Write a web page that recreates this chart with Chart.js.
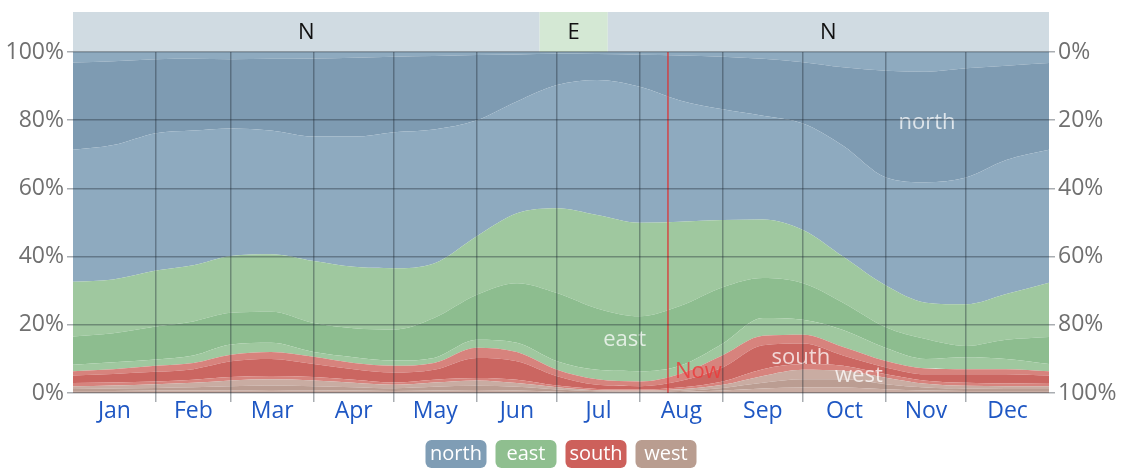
<!DOCTYPE html>
<html>
<head>
<meta charset="utf-8">
<script src="https://cdn.jsdelivr.net/npm/chart.js@4.4.0/dist/chart.umd.min.js"></script>
<style>
  html, body { margin: 0; padding: 0; background: #fff; }
  #wrap { width: 1123px; height: 469px; }
</style>
</head>
<body>
<div id="wrap"><canvas id="windChart" width="1123" height="469"></canvas></div>
<script>
// wind direction chart - stacked edges

// day of year where each edge was read
const days = [0, 15, 31, 45, 59, 74, 90, 105, 120, 135, 151, 166, 181, 196, 212, 227, 243, 258, 273, 288, 304, 319, 334, 349, 365];

// cumulative edges in %, bottom to top
const westLowTop   = [0.6, 0.6, 0.7, 0.7, 0.8, 0.9, 0.8, 0.7, 0.6, 0.7, 0.9, 0.7, 0.4, 0.2, 0.2, 0.3, 0.7, 1.3, 1.6, 1.6, 1.1, 0.7, 0.6, 0.6, 0.6];
const westCoreTop  = [1.2, 1.3, 1.5, 1.7, 2.0, 2.2, 2.0, 1.7, 1.4, 1.8, 2.1, 1.8, 1.0, 0.5, 0.4, 0.6, 1.5, 3.0, 4.0, 4.0, 2.6, 1.6, 1.3, 1.2, 1.2];
const westTop      = [2.0, 2.2, 2.6, 3.0, 3.7, 4.0, 3.7, 3.0, 2.4, 3.1, 3.7, 2.9, 1.7, 0.8, 0.7, 1.1, 2.4, 5.0, 6.8, 6.5, 4.5, 2.7, 2.1, 2.0, 2.0];
const southLowTop  = [2.9, 3.1, 3.4, 3.9, 4.7, 5.0, 4.7, 3.9, 3.1, 3.9, 4.4, 3.9, 2.2, 1.2, 1.0, 1.6, 3.4, 7.0, 8.5, 8.0, 5.5, 3.6, 3.0, 2.8, 2.9];
const southCoreTop = [5.1, 5.6, 6.2, 7.0, 9.3, 10.0, 8.5, 7.0, 6.0, 6.8, 10.3, 9.3, 4.9, 2.4, 2.0, 3.5, 7.5, 14.0, 14.5, 11.0, 7.5, 5.5, 5.5, 5.5, 5.1];
const southTop     = [6.4, 7.0, 8.0, 8.8, 11.2, 12.0, 10.6, 8.8, 8.0, 8.8, 13.3, 12.0, 6.8, 4.0, 3.4, 5.6, 11.1, 16.8, 17.1, 13.5, 9.4, 7.2, 7.0, 7.0, 6.4];
const eastLowTop   = [8.3, 9.0, 9.8, 11.0, 14.2, 14.7, 12.0, 10.5, 9.5, 10.3, 15.6, 14.7, 9.3, 6.8, 6.4, 8.0, 14.5, 22.0, 21.5, 18.5, 13.2, 10.0, 10.5, 10.0, 8.5];
const eastCoreTop  = [16.6, 17.5, 19.5, 21.0, 23.5, 23.8, 20.5, 19.0, 18.6, 22.0, 28.8, 32.2, 29.3, 24.8, 22.5, 25.5, 31.0, 33.7, 32.2, 26.5, 19.3, 15.8, 13.8, 15.6, 16.4];
const eastTop      = [32.6, 33.3, 35.9, 37.5, 40.2, 40.7, 38.7, 37.0, 36.6, 38.0, 46.0, 52.7, 54.2, 52.2, 49.9, 50.2, 50.7, 50.9, 47.8, 40.0, 31.5, 26.5, 26.0, 29.0, 32.3];
const northLowTop  = [71.3, 72.7, 76.2, 77.0, 77.6, 77.0, 75.2, 75.2, 76.5, 77.3, 80.0, 85.5, 90.3, 91.8, 89.8, 85.8, 83.2, 81.3, 79.0, 72.5, 63.2, 61.8, 63.2, 68.3, 71.3];
const northCoreTop = [96.9, 97.3, 97.9, 98.0, 97.9, 98.0, 98.1, 98.3, 98.6, 98.8, 99.1, 99.3, 99.5, 99.4, 99.2, 99.0, 98.6, 98.0, 97.0, 95.5, 94.5, 94.2, 95.2, 96.0, 96.8];
const northTop     = [100, 100, 100, 100, 100, 100, 100, 100, 100, 100, 100, 100, 100, 100, 100, 100, 100, 100, 100, 100, 100, 100, 100, 100, 100];

const monthNames = ['Jan', 'Feb', 'Mar', 'Apr', 'May', 'Jun', 'Jul', 'Aug', 'Sep', 'Oct', 'Nov', 'Dec'];
const monthStarts = [0, 31, 59, 90, 120, 151, 181, 212, 243, 273, 304, 334, 365];
const yTicks = [0, 20, 40, 60, 80, 100];

// top strip: dominant direction
const bandLabels = ['N', 'E', 'N'];
const bandStarts = [0, 174.5, 200];
const bandEnds = [174.5, 200, 365];

const nowDay = 222.5;

const dirNames = ['north', 'east', 'south', 'west'];
const dirLabelDays = [319.4, 206.3, 272.2, 293.9];
const dirLabelValues = [79.2, 15.5, 10.3, 5.0];

// colours
const northLight = '#8eaabf', northDark = '#7e9bb2';
const eastLight = '#9fc89f', eastDark = '#8dbd8f';
const southLight = '#d7837d', southDark = '#cb6661';
const westLight = '#c9aca2', westDark = '#bb9d92';
const legendColors = ['#7f9db5', '#8fbf8f', '#cd605b', '#b99d90'];
const gridColor = 'rgba(30,40,50,0.38)';

const layers = [
    [westLowTop, westLight],
    [westCoreTop, westDark],
    [westTop, westLight],
    [southLowTop, southLight],
    [southCoreTop, southDark],
    [southTop, southLight],
    [eastLowTop, eastLight],
    [eastCoreTop, eastDark],
    [eastTop, eastLight],
    [northLowTop, northLight],
    [northCoreTop, northDark],
    [northTop, northLight]
];

const datasets = layers.map(function(l, i) {
    return {
        data: days.map(function(d, j) { return { x: d, y: l[0][j] }; }),
        backgroundColor: l[1],
        borderWidth: 0,
        pointRadius: 0,
        fill: i === 0 ? 'origin' : '-1',
        cubicInterpolationMode: 'monotone'
    };
});

// x ticks: month edges carry grid lines, month middles carry labels
const xTicks = [];
for (let i = 0; i < 12; i++) {
    if (i > 0) xTicks.push({ value: monthStarts[i], label: '', grid: true });
    xTicks.push({ value: (monthStarts[i] + monthStarts[i + 1]) / 2, label: monthNames[i], grid: false });
}

const FONT = "'Open Sans', sans-serif";
Chart.defaults.font.family = FONT;

const decorPlugin = {
    id: 'decor',
    beforeDraw(chart) {
        const ctx = chart.ctx, area = chart.chartArea, x = chart.scales.x;
        ctx.save();
        for (let i = 0; i < bandLabels.length; i++) {
            const x0 = x.getPixelForValue(bandStarts[i]);
            const x1 = x.getPixelForValue(bandEnds[i]);
            ctx.fillStyle = bandLabels[i] === 'E' ? '#d4e8d4' : '#d0dbe2';
            ctx.fillRect(x0, 12, x1 - x0, area.top - 12);
            ctx.fillStyle = '#111';
            ctx.font = '22px ' + FONT;
            ctx.textAlign = 'center';
            ctx.textBaseline = 'middle';
            ctx.fillText(bandLabels[i], (x0 + x1) / 2, 33);
        }
        ctx.restore();
    },
    afterDatasetsDraw(chart) {
        const ctx = chart.ctx, area = chart.chartArea, x = chart.scales.x, y = chart.scales.y;
        ctx.save();
        // now line
        const nx = x.getPixelForValue(nowDay);
        ctx.strokeStyle = 'rgba(220,50,50,0.85)';
        ctx.lineWidth = 1.5;
        ctx.beginPath();
        ctx.moveTo(nx, area.top);
        ctx.lineTo(nx, area.bottom);
        ctx.stroke();
        ctx.font = '22px ' + FONT;
        ctx.textBaseline = 'middle';
        ctx.textAlign = 'left';
        ctx.fillStyle = 'rgba(235,60,60,0.85)';
        ctx.fillText('Now', nx + 7, 372);
        // direction labels
        ctx.textAlign = 'center';
        ctx.fillStyle = 'rgba(255,255,255,0.75)';
        for (let i = 0; i < dirNames.length; i++) {
            ctx.fillText(dirNames[i], x.getPixelForValue(dirLabelDays[i]), y.getPixelForValue(dirLabelValues[i]));
        }
        ctx.restore();
    },
    afterDraw(chart) {
        const ctx = chart.ctx;
        const w = 61, gap = 9, h = 28;
        const mid = (chart.chartArea.left + chart.chartArea.right) / 2;
        let bx = mid - (dirNames.length * w + (dirNames.length - 1) * gap) / 2;
        ctx.save();
        ctx.font = '20px ' + FONT;
        ctx.textAlign = 'center';
        ctx.textBaseline = 'middle';
        for (let i = 0; i < dirNames.length; i++) {
            ctx.fillStyle = legendColors[i];
            ctx.beginPath();
            ctx.roundRect(bx, 440, w, h, 6);
            ctx.fill();
            ctx.fillStyle = '#fff';
            ctx.fillText(dirNames[i], bx + w / 2, 440 + h / 2);
            bx += w + gap;
        }
        ctx.restore();
    }
};

new Chart(document.getElementById('windChart').getContext('2d'), {
    type: 'line',
    data: { datasets: datasets },
    plugins: [decorPlugin],
    options: {
        responsive: false,
        animation: false,
        layout: { padding: { top: 52, bottom: 36, left: 0, right: 0 } },
        plugins: { legend: { display: false }, tooltip: { enabled: false } },
        scales: {
            x: {
                type: 'linear',
                min: 0,
                max: 365,
                border: { display: false },
                afterBuildTicks: function(scale) { scale.ticks = xTicks.map(function(t) { return { value: t.value }; }); },
                afterFit: function(scale) { scale.height = 40; },
                grid: {
                    z: 1,
                    color: function(c) { return xTicks[c.index] && xTicks[c.index].grid ? gridColor : 'rgba(0,0,0,0)'; },
                    lineWidth: 1.5,
                    tickLength: 9
                },
                ticks: {
                    autoSkip: false,
                    maxRotation: 0,
                    padding: -4,
                    color: '#1f57c3',
                    font: { size: 23 },
                    callback: function(v, i) { return xTicks[i] ? xTicks[i].label : ''; }
                }
            },
            y: {
                min: 0,
                max: 100,
                border: { display: false },
                afterBuildTicks: function(scale) { scale.ticks = yTicks.map(function(v) { return { value: v }; }); },
                afterFit: function(scale) { scale.width = 73; },
                grid: { z: 1, color: gridColor, lineWidth: 1.5, tickLength: 6 },
                ticks: {
                    padding: 3,
                    color: '#707070',
                    font: { size: 23 },
                    callback: function(v) { return v + '%'; }
                }
            },
            y2: {
                position: 'right',
                reverse: true,
                min: 0,
                max: 100,
                border: { display: false },
                afterBuildTicks: function(scale) { scale.ticks = yTicks.map(function(v) { return { value: v }; }); },
                afterFit: function(scale) { scale.width = 74; },
                grid: { z: 1, drawOnChartArea: false, color: gridColor, lineWidth: 1.5, tickLength: 6 },
                ticks: {
                    padding: 3,
                    color: '#707070',
                    font: { size: 23 },
                    callback: function(v) { return v + '%'; }
                }
            }
        }
    }
});
</script>
</body>
</html>
